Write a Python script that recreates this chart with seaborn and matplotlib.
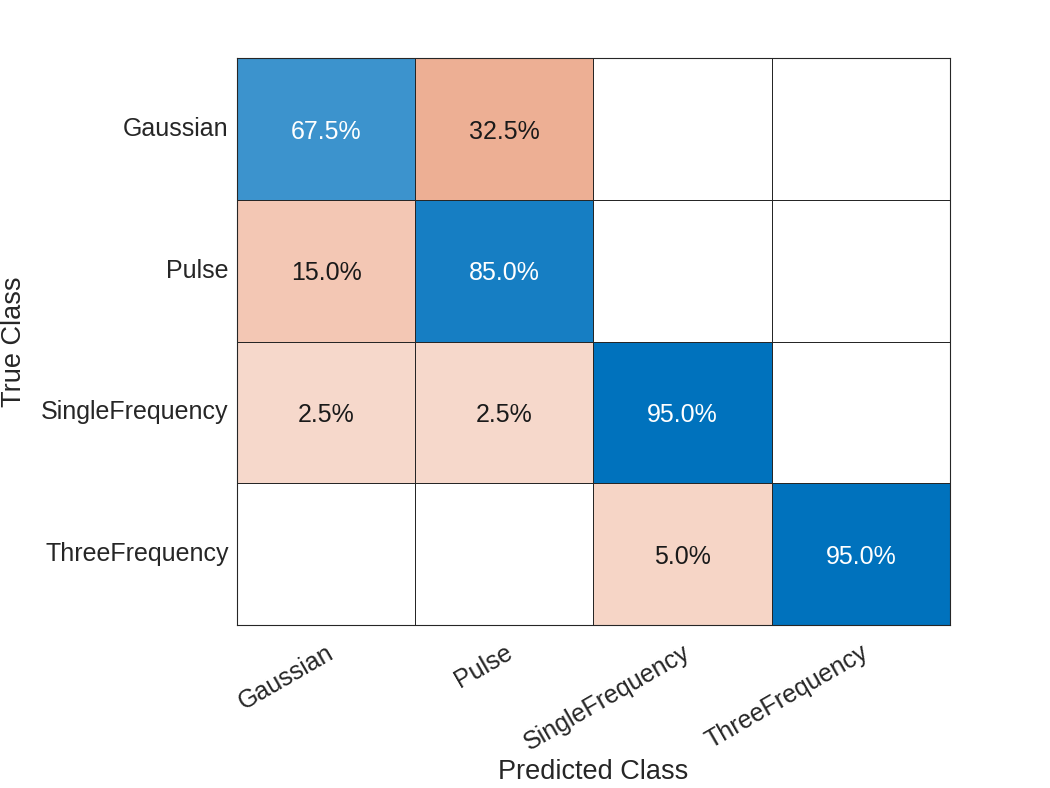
import numpy as np
import pandas as pd
import matplotlib
matplotlib.use('Agg')
import matplotlib.pyplot as plt
from matplotlib.colors import LinearSegmentedColormap
import seaborn as sns

sns.set_style('white')
plt.rcParams['font.family'] = ['Liberation Sans', 'DejaVu Sans']

# classes and row-normalized confusion percentages
classes = ['Gaussian', 'Pulse', 'SingleFrequency', 'ThreeFrequency']
gaussian_row = [67.5, 32.5, 0.0, 0.0]
pulse_row = [15.0, 85.0, 0.0, 0.0]
single_row = [2.5, 2.5, 95.0, 0.0]
three_row = [0.0, 0.0, 5.0, 95.0]

cm = pd.DataFrame([gaussian_row, pulse_row, single_row, three_row],
                  index=classes, columns=classes)
labels = cm.map(lambda v: f'{v:.1f}%' if v > 0 else '')

diag = np.eye(len(classes), dtype=bool)
zero = cm.values == 0

blue_cmap = LinearSegmentedColormap.from_list('diag', ['white', '#0072BD'])
orange_cmap = LinearSegmentedColormap.from_list('off', ['white', '#D95319'])
line_c = '#262626'

fig = plt.figure(figsize=(10.5, 7.88), dpi=100)
ax = fig.add_axes([237 / 1050, 1 - 625 / 788, (950 - 237) / 1050, (625 - 58) / 788])

# empty cells
sns.heatmap(cm, mask=~zero, cmap=LinearSegmentedColormap.from_list('w', ['white', 'white']),
            cbar=False, linewidths=0.6, linecolor=line_c, ax=ax)
# off-diagonal cells
sns.heatmap(cm, mask=diag | zero, cmap=orange_cmap, vmin=-26, vmax=99,
            annot=labels, fmt='', annot_kws={'size': 18, 'color': '#1a1a1a'},
            cbar=False, linewidths=0.6, linecolor=line_c, ax=ax)
# diagonal cells
sns.heatmap(cm, mask=~diag, cmap=blue_cmap, vmin=-21, vmax=95,
            annot=labels, fmt='', annot_kws={'size': 18, 'color': 'white'},
            cbar=False, linewidths=0.6, linecolor=line_c, ax=ax)

# nudge annotations down a little, like the original
for t in ax.texts:
    x, y = t.get_position()
    t.set_position((x, y + 0.02))

for spine in ax.spines.values():
    spine.set_visible(True)
    spine.set_color(line_c)
    spine.set_linewidth(0.8)

ax.set_xticklabels(classes, rotation=30, ha='right', rotation_mode='anchor', fontsize=18, color=line_c)
ax.set_yticklabels(classes, rotation=0, fontsize=18, color=line_c)
ax.tick_params(axis='y', length=0, pad=6)
ax.tick_params(axis='x', length=0, pad=11)
ax.set_xlabel('Predicted Class', fontsize=19.5, color=line_c)
ax.set_ylabel('True Class', fontsize=19.5, color=line_c)
ax.xaxis.set_label_coords(0.5, -0.237)
ax.yaxis.set_label_coords(-0.295, 0.5)

fig.savefig('out.png', dpi=100)
